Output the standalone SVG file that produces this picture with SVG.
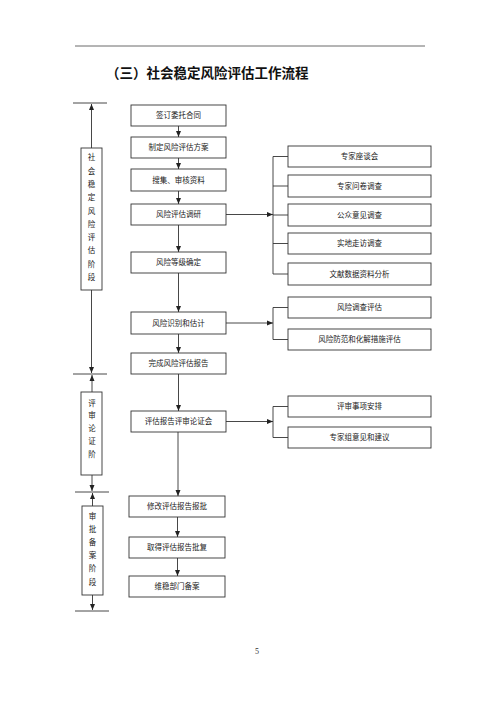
<svg xmlns="http://www.w3.org/2000/svg" width="500" height="707" viewBox="0 0 500 707">
<style>
.box{fill:#fff;stroke:#333;stroke-width:0.9}
.t{font-family:"Noto Sans CJK SC","Noto Sans CJK JP",sans-serif;font-size:7.5px;fill:#222;text-anchor:middle}
.v{font-family:"Noto Sans CJK SC","Noto Sans CJK JP",sans-serif;font-size:7.5px;fill:#222;text-anchor:middle}
.ln{stroke:#333;stroke-width:0.9;fill:none}
.ttl{font-family:"Noto Sans CJK SC","Noto Sans CJK JP",sans-serif;font-size:13.5px;font-weight:bold;fill:#111}
</style>
<defs>
<marker id="ah" markerUnits="userSpaceOnUse" markerWidth="6" markerHeight="6" viewBox="0 0 6 6" refX="6" refY="3" orient="auto">
<path d="M0,0.5 L6,3 L0,5.5 Z" fill="#222"/>
</marker>
</defs>
<rect width="500" height="707" fill="#fff"/>
<line x1="75" y1="46" x2="425" y2="46" stroke="#444" stroke-width="0.8"/>
<text class="ttl" x="106" y="78">（三）社会稳定风险评估工作流程</text>

<g id="connectors">
<!-- left stage brackets -->
<line class="ln" x1="73" y1="103" x2="107" y2="103"/>
<line class="ln" x1="91.5" y1="148" x2="91.5" y2="104" marker-end="url(#ah)"/>
<line class="ln" x1="91.5" y1="290" x2="91.5" y2="373" marker-end="url(#ah)"/>
<line class="ln" x1="73" y1="374" x2="107" y2="374"/>
<line class="ln" x1="92" y1="392" x2="92" y2="375" marker-end="url(#ah)"/>
<line class="ln" x1="92" y1="475" x2="92" y2="491" marker-end="url(#ah)"/>
<line class="ln" x1="75" y1="492" x2="109" y2="492"/>
<line class="ln" x1="92.5" y1="506" x2="92.5" y2="493" marker-end="url(#ah)"/>
<line class="ln" x1="92.5" y1="595" x2="92.5" y2="610" marker-end="url(#ah)"/>
<line class="ln" x1="75" y1="611" x2="109" y2="611"/>
<!-- main flow -->
<line class="ln" x1="178.5" y1="126" x2="178.5" y2="137" marker-end="url(#ah)"/>
<line class="ln" x1="178.5" y1="158" x2="178.5" y2="169" marker-end="url(#ah)"/>
<line class="ln" x1="178.5" y1="191" x2="178.5" y2="204" marker-end="url(#ah)"/>
<line class="ln" x1="178.5" y1="225" x2="178.5" y2="252" marker-end="url(#ah)"/>
<line class="ln" x1="178.5" y1="273" x2="178.5" y2="312" marker-end="url(#ah)"/>
<line class="ln" x1="178.5" y1="334" x2="178.5" y2="353" marker-end="url(#ah)"/>
<line class="ln" x1="178.5" y1="374" x2="178.5" y2="411" marker-end="url(#ah)"/>
<line class="ln" x1="178" y1="432" x2="178" y2="496" marker-end="url(#ah)"/>
<line class="ln" x1="177.5" y1="517" x2="177.5" y2="537" marker-end="url(#ah)"/>
<line class="ln" x1="177.5" y1="558" x2="177.5" y2="576" marker-end="url(#ah)"/>
<!-- branch 1 -->
<line class="ln" x1="226" y1="214.5" x2="273" y2="214.5" marker-end="url(#ah)"/>
<path class="ln" d="M288,156.5 H273 V274 H288 M273,186 H288 M273,215 H288 M273,243.5 H288"/>
<!-- branch 2 -->
<line class="ln" x1="226" y1="323" x2="273" y2="323" marker-end="url(#ah)"/>
<path class="ln" d="M288,307.5 H273 V339.5 H288"/>
<!-- branch 3 -->
<line class="ln" x1="226" y1="421.5" x2="273" y2="421.5" marker-end="url(#ah)"/>
<path class="ln" d="M288,406.5 H273 V437.5 H288"/>
</g>

<g id="stage1"><rect class="box" x="81" y="148" width="21" height="142"/>
<text class="v" x="91.5" y="160">社</text><text class="v" x="91.5" y="174">会</text><text class="v" x="91.5" y="187">稳</text><text class="v" x="91.5" y="200">定</text><text class="v" x="91.5" y="214">风</text><text class="v" x="91.5" y="227">险</text><text class="v" x="91.5" y="240">评</text><text class="v" x="91.5" y="253">估</text><text class="v" x="91.5" y="267">阶</text><text class="v" x="91.5" y="280">段</text></g>
<g id="stage2"><rect class="box" x="81" y="392" width="21" height="83"/>
<text class="v" x="92" y="406">评</text><text class="v" x="92" y="418">审</text><text class="v" x="92" y="431">论</text><text class="v" x="92" y="444">证</text><text class="v" x="92" y="457">阶</text></g>
<g id="stage3"><rect class="box" x="82" y="506" width="21" height="89"/>
<text class="v" x="92.5" y="519">审</text><text class="v" x="92.5" y="532">批</text><text class="v" x="92.5" y="545">备</text><text class="v" x="92.5" y="558">案</text><text class="v" x="92.5" y="571">阶</text><text class="v" x="92.5" y="585">段</text></g>

<g id="n1"><rect class="box" x="131" y="105" width="95" height="21"/><text class="t" x="178.5" y="118.2">签订委托合同</text></g>
<g id="n2"><rect class="box" x="131" y="137" width="95" height="21"/><text class="t" x="178.5" y="150.2">制定风险评估方案</text></g>
<g id="n3"><rect class="box" x="131" y="169" width="95" height="22"/><text class="t" x="178.5" y="182.7">搜集、审核资料</text></g>
<g id="n4"><rect class="box" x="131" y="204" width="95" height="21"/><text class="t" x="178.5" y="217.2">风险评估调研</text></g>
<g id="n5"><rect class="box" x="131" y="252" width="95" height="21"/><text class="t" x="178.5" y="265.2">风险等级确定</text></g>
<g id="n6"><rect class="box" x="131" y="312" width="95" height="22"/><text class="t" x="178.5" y="325.7">风险识别和估计</text></g>
<g id="n7"><rect class="box" x="131" y="353" width="95" height="21"/><text class="t" x="178.5" y="366.2">完成风险评估报告</text></g>
<g id="n8"><rect class="box" x="131" y="411" width="95" height="21"/><text class="t" x="178.5" y="424.2">评估报告评审论证会</text></g>
<g id="n9"><rect class="box" x="129" y="496" width="96" height="21"/><text class="t" x="177" y="509.2">修改评估报告报批</text></g>
<g id="n10"><rect class="box" x="129" y="537" width="96" height="21"/><text class="t" x="177" y="550.2">取得评估报告批复</text></g>
<g id="n11"><rect class="box" x="129" y="576" width="96" height="21"/><text class="t" x="177" y="589.2">维稳部门备案</text></g>

<g id="r1"><rect class="box" x="288" y="146" width="143" height="21"/><text class="t" x="359.5" y="159.2">专家座谈会</text></g>
<g id="r2"><rect class="box" x="288" y="175" width="143" height="22"/><text class="t" x="359.5" y="188.7">专家问卷调查</text></g>
<g id="r3"><rect class="box" x="288" y="204" width="143" height="22"/><text class="t" x="359.5" y="217.7">公众意见调查</text></g>
<g id="r4"><rect class="box" x="288" y="233" width="143" height="21"/><text class="t" x="359.5" y="246.2">实地走访调查</text></g>
<g id="r5"><rect class="box" x="288" y="263" width="143" height="22"/><text class="t" x="359.5" y="276.7">文献数据资料分析</text></g>
<g id="r6"><rect class="box" x="288" y="297" width="143" height="21"/><text class="t" x="359.5" y="310.2">风险调查评估</text></g>
<g id="r7"><rect class="box" x="288" y="329" width="143" height="21"/><text class="t" x="359.5" y="342.2">风险防范和化解措施评估</text></g>
<g id="r8"><rect class="box" x="288" y="396" width="143" height="21"/><text class="t" x="359.5" y="409.2">评审事项安排</text></g>
<g id="r9"><rect class="box" x="288" y="427" width="143" height="21"/><text class="t" x="359.5" y="440.2">专家组意见和建议</text></g>

<text x="257" y="654" font-family="Liberation Serif,serif" font-size="8" fill="#333" text-anchor="middle">5</text>
</svg>
